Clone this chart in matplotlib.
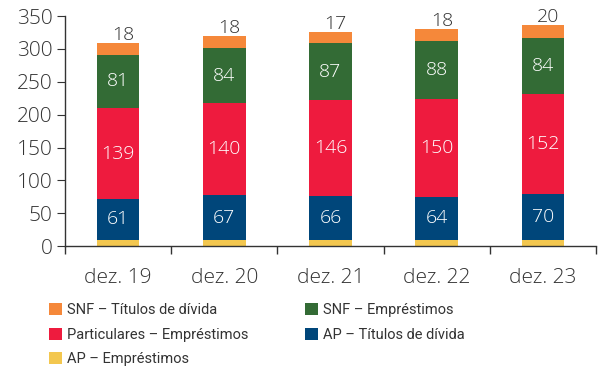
import numpy as np
import matplotlib.pyplot as plt
from matplotlib.patches import Patch

categories = ['dez. 19', 'dez. 20', 'dez. 21', 'dez. 22', 'dez. 23']
ap_emp = [10, 10, 10, 10, 10]
ap_tit = [61, 67, 66, 64, 70]
part_emp = [139, 140, 146, 150, 152]
snf_emp = [81, 84, 87, 88, 84]
snf_tit = [18, 18, 17, 18, 20]

COL = {'ap_emp': '#F3C74F', 'ap_tit': '#00467A', 'part_emp': '#EE1B3E',
       'snf_emp': '#336B35', 'snf_tit': '#F5883A'}
TXT = '#333333'
FONT = ['Open Sans', 'DejaVu Sans']
NARROW = ['Roboto', 'DejaVu Sans']

plt.rcParams['font.family'] = FONT

fig = plt.figure(figsize=(6.04, 3.74), dpi=100)
ax = fig.add_axes([0.1076, 0.342, 0.879, 0.615])

x = np.arange(len(categories))
w = 0.4
series = [('ap_emp', ap_emp), ('ap_tit', ap_tit), ('part_emp', part_emp),
          ('snf_emp', snf_emp), ('snf_tit', snf_tit)]
bottom = np.zeros(len(categories))
for key, vals in series:
    vals = np.array(vals, dtype=float)
    ax.bar(x, vals, w, bottom=bottom, color=COL[key], linewidth=0)
    if key in ('ap_tit', 'part_emp', 'snf_emp'):
        for xi, b, v in zip(x, bottom, vals):
            ax.text(xi, b + v / 2, '%d' % v, ha='center', va='center',
                    color='white', fontsize=14, fontweight='light')
    elif key == 'snf_tit':
        for xi, b, v in zip(x, bottom, vals):
            ax.text(xi + 0.05, b + v - 1, '%d' % v, ha='center', va='bottom',
                    color=TXT, fontsize=14, fontweight='light')
    bottom += vals

ax.set_xlim(-0.5, len(categories) - 0.5)
ax.set_ylim(0, 350)
ax.set_yticks(range(0, 351, 50))
ax.set_xticks(x)
ax.set_xticklabels(categories)
ax.set_xticks(np.arange(-0.5, len(categories) - 0.4, 1), minor=True)
ax.tick_params(axis='x', which='major', length=0, pad=16, labelsize=15, labelcolor=TXT)
ax.tick_params(axis='x', which='minor', length=6, color=TXT, width=1)
ax.tick_params(axis='y', length=6, color=TXT, labelsize=15, labelcolor=TXT, pad=3)
for lab in ax.get_xticklabels() + ax.get_yticklabels():
    lab.set_fontweight('light')

for s in ['top', 'right']:
    ax.spines[s].set_visible(False)
for s in ['left', 'bottom']:
    ax.spines[s].set_color(TXT)
    ax.spines[s].set_linewidth(1)

labels = ['SNF – Títulos de dívida', 'Particulares – Empréstimos', 'AP – Empréstimos',
          'SNF – Empréstimos', 'AP – Títulos de dívida']
keys = ['snf_tit', 'part_emp', 'ap_emp', 'snf_emp', 'ap_tit']
handles = [Patch(facecolor=COL[k], edgecolor='none') for k in keys]
lgd = fig.legend(handles, labels, ncol=2, loc='upper left', bbox_to_anchor=(0.06, 0.224),
                 frameon=False, handlelength=0.85, handleheight=0.85, handletextpad=0.35,
                 columnspacing=3.9, labelspacing=0.72,
                 prop={'family': NARROW, 'size': 10.5})
for t in lgd.get_texts():
    t.set_color(TXT)

fig.savefig('out.png', dpi=100)
